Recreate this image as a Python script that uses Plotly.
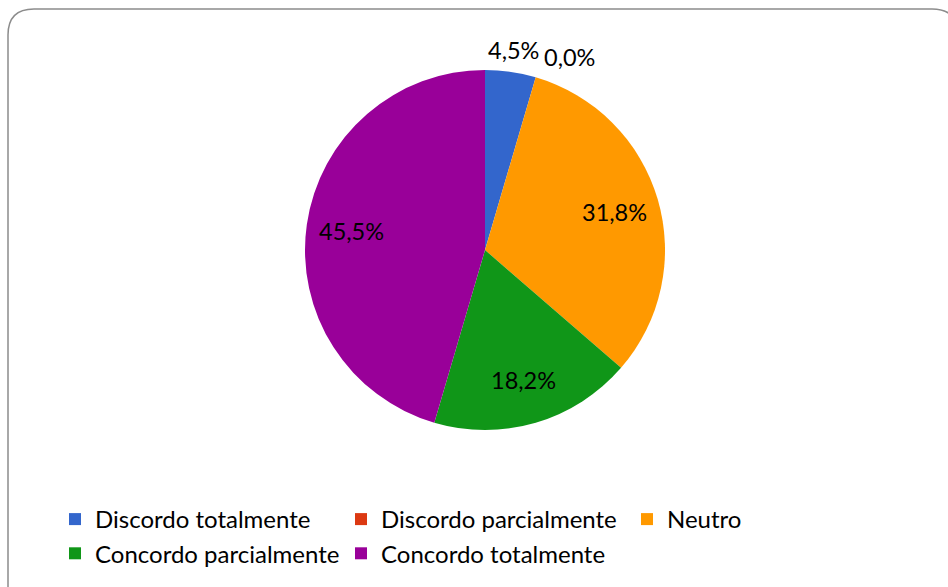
import math
import plotly.graph_objects as go

categories = ["Discordo totalmente", "Discordo parcialmente", "Neutro",
              "Concordo parcialmente", "Concordo totalmente"]
counts = [1, 0, 7, 4, 10]
colors = ["#3366CC", "#DC3912", "#FF9900", "#109618", "#990099"]

total = sum(counts)
pct_labels = [f"{100*c/total:.1f}%".replace(".", ",") for c in counts]

W, H = 948, 587
FONT = "Lato"

# pie geometry (pixels)
CX, CY, R = 485, 250, 180

fig = go.Figure(go.Pie(
    labels=categories,
    values=counts,
    textinfo="none",
    marker=dict(colors=colors, line=dict(width=0)),
    sort=False,
    direction="clockwise",
    rotation=0,
    showlegend=True,
    hoverinfo="label+percent",
    domain=dict(x=[(CX-R)/W, (CX+R)/W], y=[1-(CY+R)/H, 1-(CY-R)/H]),
))

# data labels placed at each slice's mid-angle (derived from the values)
cum = 0
for c, txt in zip(counts, pct_labels):
    frac = c / total
    mid = (cum + frac / 2) * 2 * math.pi
    cum += frac
    s, co = math.sin(mid), math.cos(mid)
    if frac < 0.1:
        r = 1.12 * R
        xa = "center" if s < 0.2 else "left"
    else:
        r = 0.75 * R
        xa = "center"
    fig.add_annotation(
        x=(CX + r * s) / W, y=1 - (CY - r * co) / H,
        xref="paper", yref="paper", text=txt, showarrow=False,
        xanchor=xa, yanchor="middle",
        font=dict(family=FONT, size=23.5, color="#000000"),
    )

# rounded frame (paper coords, margins are zero)
x0, y0 = 8/W, 1-9/H
x1 = 958/W
rx, ry = 26/W, 26/H
path = (f"M {x0},-0.05 L {x0},{y0-ry} Q {x0},{y0} {x0+rx},{y0} "
        f"L {x1-rx},{y0} Q {x1},{y0} {x1},{y0-ry} L {x1},-0.05")
fig.add_shape(type="path", path=path, xref="paper", yref="paper",
              line=dict(color="#8C8C8C", width=1.5))

fig.update_layout(
    width=W, height=H,
    margin=dict(l=0, r=0, t=0, b=0),
    paper_bgcolor="#FFFFFF",
    plot_bgcolor="#FFFFFF",
    font=dict(family=FONT, size=24, color="#000000"),
    legend=dict(
        orientation="h",
        x=55/W, xanchor="left",
        y=1-497/H, yanchor="top",
        entrywidth=241, entrywidthmode="pixels",
        font=dict(family=FONT, size=24, color="#000000"),
        itemclick=False,
        traceorder="normal",
    ),
)

fig.write_html(
    "out.html",
    config={"displayModeBar": False},
    post_script="document.body.style.margin='0';document.body.style.overflow='hidden';",
)
